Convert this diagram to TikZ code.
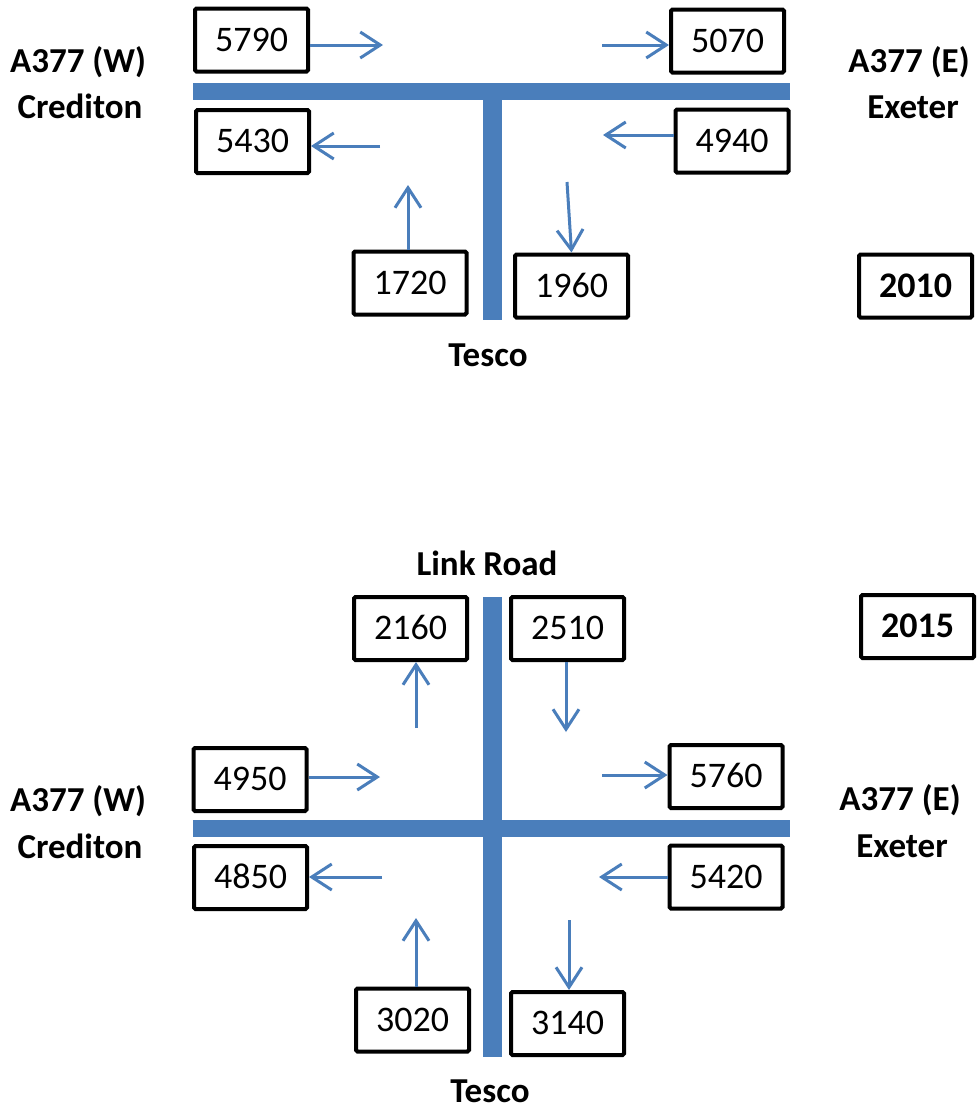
\documentclass[tikz,border=0pt]{standalone}
\usepackage{fontspec}
\setmainfont{Carlito}
\usetikzlibrary{arrows.meta}
\definecolor{roadblue}{HTML}{4A7EBB}
\begin{document}
\begin{tikzpicture}[x=1pt,y=-1pt,
  numbox/.style={draw=black,line width=4pt,rounded corners=1.5pt,minimum width=113pt,minimum height=63pt,inner sep=0pt,
    font=\fontsize{36}{43}\selectfont,text height=22pt,text depth=0pt,fill=white},
  yearbox/.style={numbox,font=\fontsize{36}{43}\selectfont\bfseries},
  lbl/.style={anchor=base,inner sep=0pt,font=\fontsize{35}{42}\selectfont\bfseries},
  road/.style={fill=roadblue,draw=none},
  flow/.style={draw=roadblue,line width=3pt,-{Straight Barb[length=20pt,width=26pt,line width=3pt]}}]
\useasboundingbox (0,0) rectangle (979,1109);
\fill[white] (0,0) rectangle (979,1109);

% ---------- 2010 ----------
\fill[road] (193,83) rectangle (790,100);
\fill[road] (483,92) rectangle (502,320);

\node[numbox] (b5790) at (251.5,40) {5790};
\node[numbox] (b5430) at (252.5,141.5) {5430};
\node[numbox] (b5070) at (727.5,41) {5070};
\node[numbox] (b4940) at (732,141) {4940};
\node[numbox] (b1720) at (410,283) {1720};
\node[numbox] (b1960) at (571.5,286) {1960};
\node[yearbox] (b2010) at (915.5,286) {2010};

\coordinate (t5790) at (383,45);
\coordinate (s5070) at (602,45);
\coordinate (s5430) at (380,146);
\coordinate (t4940) at (603,135);
\coordinate (t1720) at (408,185);
\coordinate (s1960) at (567,182);

\draw[flow] (b5790.east |- t5790) -- (t5790);
\draw[flow] (s5070) -- (b5070.west |- s5070);
\draw[flow] (s5430) -- (b5430.east |- s5430);
\draw[flow] (b4940.west |- t4940) -- (t4940);
\draw[flow] (b1720.north -| t1720) -- (t1720);
\draw[flow] (s1960) -- (b1960.north);

\node[lbl] (w1) at (78,72) {A377 (W)};
\node[lbl] (c1) at (80,118) {Crediton};
\node[lbl] (e1) at (909,72) {A377 (E)};
\node[lbl] (x1) at (913,118) {Exeter};
\node[lbl] (tesco1) at (488,366) {Tesco};

% ---------- 2015 ----------
\fill[road] (193,820) rectangle (790,837);
\fill[road] (483,597) rectangle (502,1057);

\node[numbox] (b2160) at (410.5,628.5) {2160};
\node[numbox] (b2510) at (567.5,628.5) {2510};
\node[yearbox] (b2015) at (917.5,626.5) {2015};
\node[numbox] (b4950) at (250,779.5) {4950};
\node[numbox] (b4850) at (250.5,877.5) {4850};
\node[numbox] (b5760) at (726,776.5) {5760};
\node[numbox] (b5420) at (726,877) {5420};
\node[numbox] (b3020) at (412.5,1020) {3020};
\node[numbox] (b3140) at (567.5,1023.5) {3140};

\coordinate (s2160) at (416,728);
\coordinate (t2510) at (566,732);
\coordinate (t4950) at (380,777);
\coordinate (s5760) at (602,775);
\coordinate (s4850) at (382,877);
\coordinate (t5420) at (599,877);
\coordinate (t3020) at (416,918);
\coordinate (s3140) at (569,920);

\draw[flow] (s2160) -- (b2160.south -| s2160);
\draw[flow] (b2510.south -| t2510) -- (t2510);
\draw[flow] (b4950.east |- t4950) -- (t4950);
\draw[flow] (s5760) -- (b5760.west |- s5760);
\draw[flow] (s4850) -- (b4850.east |- s4850);
\draw[flow] (b5420.west |- t5420) -- (t5420);
\draw[flow] (b3020.north -| t3020) -- (t3020);
\draw[flow] (s3140) -- (b3140.north -| s3140);

\node[lbl] (link) at (487,575) {Link Road};
\node[lbl] (w2) at (78,811) {A377 (W)};
\node[lbl] (c2) at (80,858) {Crediton};
\node[lbl] (e2) at (900,810) {A377 (E)};
\node[lbl] (x2) at (902,857) {Exeter};
\node[lbl] (tesco2) at (490,1102) {Tesco};
\end{tikzpicture}
\end{document}
